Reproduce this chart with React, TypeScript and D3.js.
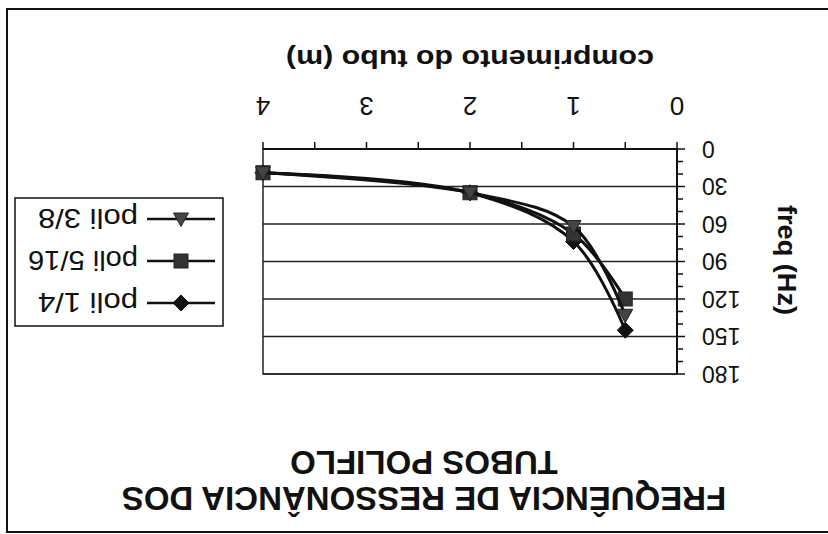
import React from "react";
import * as d3 from "d3";

const lengths = [4, 2, 1, 0.5];
const poli14 = [19, 35, 74, 145];
const poli516 = [19, 35, 68, 120];
const poli38 = [19, 35, 62, 133];
const xTicks = [0, 1, 2, 3, 4];
const yTicks = [0, 30, 60, 90, 120, 150, 180];
const seriesNames = ["poli 1/4", "poli 5/16", "poli 3/8"];
const titleLines = ["FREQUÊNCIA DE RESSONÂNCIA DOS", "TUBOS POLIFLO"];
const xTitle = "comprimento do tubo (m)";
const yTitle = "freq (Hz)";

const W = 828;
const H = 534;
const FONT = "'Liberation Sans', Arial, Helvetica, sans-serif";

function Marker({ kind, x, y }: { kind: string; x: number; y: number }) {
  if (kind === "diamond") {
    const r = 8;
    return (
      <path
        d={`M${x},${y - r}L${x + r},${y}L${x},${y + r}L${x - r},${y}Z`}
        fill="#111"
        stroke="#111"
        strokeWidth={1}
      />
    );
  }
  if (kind === "square") {
    const r = 7;
    return <rect x={x - r} y={y - r} width={2 * r} height={2 * r} fill="#333" stroke="#222" strokeWidth={1} />;
  }
  const r = 7.5;
  return (
    <path
      d={`M${x},${y - r}L${x + r},${y + r * 0.8}L${x - r},${y + r * 0.8}Z`}
      fill="#444"
      stroke="#222"
      strokeWidth={1}
    />
  );
}

export default function App() {
  const x = d3.scaleLinear().domain([0, 4]).range([151, 565]);
  const y = d3.scaleLinear().domain([0, 180]).range([385, 160]);
  const line = d3
    .line<[number, number]>()
    .x((d) => x(d[0]))
    .y((d) => y(d[1]))
    .curve(d3.curveCatmullRom.alpha(0.5));

  const series = [
    { name: seriesNames[0], values: poli14, kind: "diamond" },
    { name: seriesNames[1], values: poli516, kind: "square" },
    { name: seriesNames[2], values: poli38, kind: "triangle" },
  ];

  const xMinor = d3.range(0, 4.001, 0.5);
  const yMinor = d3.range(0, 180.001, 10);

  return (
    <svg
      width={W}
      height={H}
      style={{ position: "absolute", left: 0, top: 0, background: "#fff" }}
      fontFamily={FONT}
    >
      <rect x={0} y={0} width={W} height={H} fill="#fff" />
      <g transform={`rotate(180 ${W / 2} ${H / 2})`}>
        {/* outer chart border */}
        <rect x={-10} y={2} width={831} height={523} fill="none" stroke="#111" strokeWidth={2} />

        {/* title */}
        <text x={404} y={47} textAnchor="middle" fontSize={33} fontWeight="bold" fill="#111">
          {titleLines[0]}
        </text>
        <text x={404} y={83} textAnchor="middle" fontSize={33} fontWeight="bold" fill="#111">
          {titleLines[1]}
        </text>

        {/* gridlines */}
        {yTicks.map((t) => (
          <line key={"g" + t} x1={x(0)} x2={x(4)} y1={y(t)} y2={y(t)} stroke="#222" strokeWidth={1.5} />
        ))}
        {/* plot area border */}
        <rect x={x(0)} y={y(180)} width={x(4) - x(0)} height={y(0) - y(180)} fill="none" stroke="#222" strokeWidth={1.5} />

        {/* y axis */}
        <line x1={x(0)} x2={x(0)} y1={y(0)} y2={y(180)} stroke="#111" strokeWidth={2} />
        {yMinor.map((t) => (
          <line
            key={"ym" + t}
            x1={x(0)}
            x2={x(0) - (t % 30 === 0 ? 8 : 6)}
            y1={y(t)}
            y2={y(t)}
            stroke="#111"
            strokeWidth={1.5}
          />
        ))}
        {yTicks.map((t) => (
          <text key={"yl" + t} x={126} y={y(t)} dy="0.36em" textAnchor="end" fontSize={23} fill="#111">
            {t}
          </text>
        ))}
        <text
          transform={`translate(50 274) rotate(-90)`}
          textAnchor="middle"
          fontSize={25}
          fontWeight="bold"
          fill="#111"
          textLength={110}
          lengthAdjust="spacingAndGlyphs"
        >
          {yTitle}
        </text>

        {/* x axis */}
        <line x1={x(0)} x2={x(4)} y1={y(0)} y2={y(0)} stroke="#111" strokeWidth={2} />
        {xMinor.map((t) => (
          <line key={"xm" + t} x1={x(t)} x2={x(t)} y1={y(0)} y2={y(0) + 7} stroke="#111" strokeWidth={1.5} />
        ))}
        {xTicks.map((t) => (
          <text key={"xl" + t} x={x(t)} y={437} textAnchor="middle" fontSize={26} fill="#111">
            {t}
          </text>
        ))}
        <text
          x={358}
          y={484}
          textAnchor="middle"
          fontSize={25}
          fontWeight="bold"
          fill="#111"
          textLength={368}
          lengthAdjust="spacingAndGlyphs"
        >
          {xTitle}
        </text>

        {/* series */}
        {series.map((s) => {
          const pts: [number, number][] = lengths.map((l, i) => [l, s.values[i]]);
          return (
            <g key={s.name}>
              <path d={line(pts) || ""} fill="none" stroke="#111" strokeWidth={3} />
              {pts.map((p, i) => (
                <Marker key={i} kind={s.kind} x={x(p[0])} y={y(p[1])} />
              ))}
            </g>
          );
        })}

        {/* legend */}
        <rect x={605} y={208} width={208} height={128} fill="#fff" stroke="#111" strokeWidth={1.5} />
        {series.map((s, i) => {
          const ly = 231 + i * 42;
          return (
            <g key={"lg" + s.name}>
              <line x1={613} x2={681} y1={ly} y2={ly} stroke="#111" strokeWidth={2.5} />
              <Marker kind={s.kind} x={647} y={ly} />
              <text
                x={690}
                y={ly}
                dy="0.36em"
                fontSize={27}
                fill="#111"
                textLength={s.name.length === 8 ? 100 : 110}
                lengthAdjust="spacingAndGlyphs"
              >
                {s.name}
              </text>
            </g>
          );
        })}
      </g>
    </svg>
  );
}
